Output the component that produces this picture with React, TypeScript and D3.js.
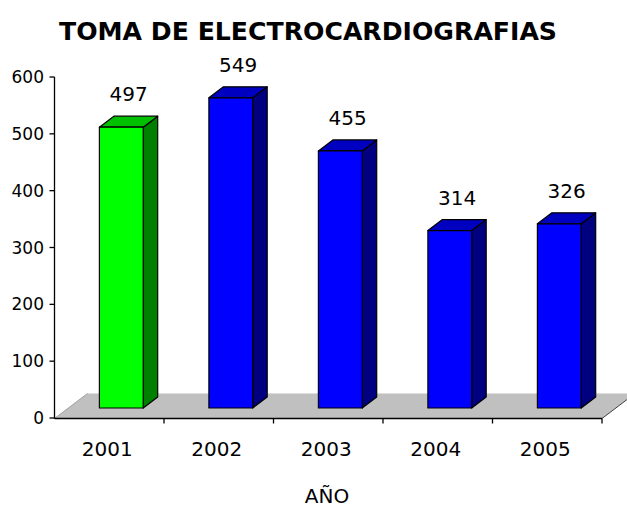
import React from "react";
import * as d3 from "d3";

const categories = ["2001", "2002", "2003", "2004", "2005"];
const values = [497, 549, 455, 314, 326];
const yTicks = [0, 100, 200, 300, 400, 500, 600];
const title = "TOMA DE ELECTROCARDIOGRAFIAS";
const xTitle = "AÑO";

const W = 627;
const H = 507;
const FONT = "'DejaVu Sans', Verdana, sans-serif";

export default function App() {
  const axisLeft = 54.5;
  const axisRight = 602;
  const axisBottom = 418.5;
  const floorDx = 33;
  const floorDy = -25;
  const barDx = 14.5;
  const barDy = -11;

  const x = d3.scaleBand<string>().domain(categories).range([axisLeft, axisRight]);
  const yAxis = d3.scaleLinear().domain([0, 600]).range([418, 77]);
  const yBar = d3.scaleLinear().domain([0, 600]).range([408, 69]);
  const bw = x.bandwidth();

  const floor = [
    [axisLeft, axisBottom],
    [axisRight, axisBottom],
    [axisRight + floorDx, axisBottom + floorDy],
    [axisLeft + floorDx, axisBottom + floorDy],
  ];

  return (
    <svg
      width={W}
      height={H}
      viewBox={`0 0 ${W} ${H}`}
      style={{ position: "absolute", left: 0, top: 0, background: "#fff" }}
    >
      <rect x={0} y={0} width={W} height={H} fill="#fff" />
      <text
        x={308}
        y={40}
        textAnchor="middle"
        fontFamily={FONT}
        fontWeight="bold"
        fontSize={24}
        textLength={498}
        lengthAdjust="spacingAndGlyphs"
        fill="#000"
      >
        {title}
      </text>

      {/* floor */}
      <polygon points={floor.map((p) => p.join(",")).join(" ")} fill="#c0c0c0" />
      <line
        x1={axisRight}
        y1={axisBottom}
        x2={axisRight + floorDx}
        y2={axisBottom + floorDy}
        stroke="#404040"
        strokeWidth={1}
      />
      <line
        x1={axisLeft}
        y1={axisBottom}
        x2={axisLeft + floorDx}
        y2={axisBottom + floorDy}
        stroke="#a0a0a0"
        strokeWidth={1}
      />

      {/* bars */}
      {categories.map((c, i) => {
        const v = values[i];
        const x0 = (x(c) as number) + bw * 0.41;
        const x1 = x0 + bw * 0.4;
        const yb = yBar(0);
        const yt = yBar(v);
        const green = i === 0;
        const front = green ? "#00ff00" : "#0000ff";
        const top = green ? "#00c000" : "#0000c0";
        const side = green ? "#008000" : "#000080";
        return (
          <g key={c} stroke="#000" strokeWidth={1.2} strokeLinejoin="round">
            <polygon
              points={`${x1},${yt} ${x1 + barDx},${yt + barDy} ${x1 + barDx},${yb + barDy} ${x1},${yb}`}
              fill={side}
            />
            <polygon
              points={`${x0},${yt} ${x0 + barDx},${yt + barDy} ${x1 + barDx},${yt + barDy} ${x1},${yt}`}
              fill={top}
            />
            <rect x={x0} y={yt} width={x1 - x0} height={yb - yt} fill={front} />
            <text
              x={(x0 + x1 + barDx) / 2}
              y={yt + barDy - 15}
              textAnchor="middle"
              fontFamily={FONT}
              fontSize={20}
              stroke="none"
              fill="#000"
            >
              {v}
            </text>
          </g>
        );
      })}

      {/* y axis */}
      <line x1={axisLeft} y1={yAxis(600)} x2={axisLeft} y2={axisBottom} stroke="#000" strokeWidth={1.3} />
      {yTicks.map((t) => (
        <g key={t}>
          <line x1={axisLeft - 5} x2={axisLeft} y1={yAxis(t)} y2={yAxis(t)} stroke="#000" strokeWidth={1.3} />
          <text
            x={44}
            y={yAxis(t) + 6}
            textAnchor="end"
            fontFamily={FONT}
            fontSize={17}
            fill="#000"
          >
            {t}
          </text>
        </g>
      ))}

      {/* x axis */}
      <line x1={axisLeft} y1={axisBottom} x2={axisRight} y2={axisBottom} stroke="#000" strokeWidth={1.3} />
      {categories.map((c) => (
        <line
          key={"t" + c}
          x1={(x(c) as number) + bw}
          x2={(x(c) as number) + bw}
          y1={axisBottom}
          y2={axisBottom + 5}
          stroke="#000"
          strokeWidth={1.3}
        />
      ))}
      {categories.map((c) => (
        <text
          key={"l" + c}
          x={(x(c) as number) + bw / 2 - 2}
          y={456}
          textAnchor="middle"
          fontFamily={FONT}
          fontSize={20}
          fill="#000"
        >
          {c}
        </text>
      ))}
      <text x={327} y={503} textAnchor="middle" fontFamily={FONT} fontSize={20} fill="#000">
        {xTitle}
      </text>
    </svg>
  );
}
